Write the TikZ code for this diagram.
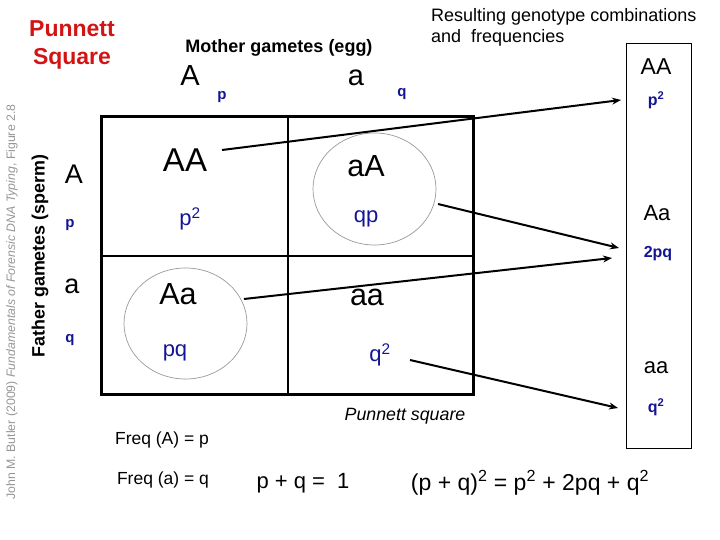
\documentclass[tikz,border=0pt]{standalone}
\usepackage{fontspec}
\setmainfont{Liberation Sans}
\usetikzlibrary{arrows.meta}
\definecolor{gblue}{RGB}{20,20,150}
\definecolor{pred}{RGB}{210,20,20}
\definecolor{credit}{RGB}{150,150,150}
\newcommand\fsz[1]{\fontsize{#1}{#1}\selectfont}
\begin{document}
\begin{tikzpicture}[x=1pt,y=-1pt,
  lbl/.style={inner sep=0pt, anchor=center},
  big/.style={lbl, font=\fsz{30.5}},
  freq/.style={lbl, font=\fsz{22}, text=gblue},
  sml/.style={lbl, font=\fsz{15}\bfseries, text=gblue},
  outer/.style={line width=3pt},
  inner/.style={line width=2pt},
  oval/.style={draw=gray!80, line width=0.7pt},
  arr/.style={line width=2pt, -{Stealth[length=9pt,width=7pt]}}]
\useasboundingbox (0,0) rectangle (720,540);
% titles
\node[lbl, align=center, font=\fsz{23}\bfseries, text=pred] (title) at (72,45) {Punnett\\[5pt]Square};
\node[lbl, rotate=90, font=\fsz{12.3}, text=credit] (credit) at (12,302) {John M. Butler (2009) \textit{Fundamentals of Forensic DNA Typing}, Figure 2.8};
\node[lbl, rotate=90, font=\fsz{17.9}\bfseries] (father) at (40,256) {Father gametes (sperm)};
\node[lbl, font=\fsz{18}\bfseries] (mother) at (279,48) {Mother gametes (egg)};
\node[inner sep=0pt, anchor=base west, font=\fsz{18}] (result1) at (431,22) {Resulting genotype combinations};
\node[inner sep=0pt, anchor=base west, font=\fsz{18}] (result2) at (431,43) {and\ \ frequencies};
% gametes
\node[lbl, font=\fsz{29}] (mA) at (190,76) {A};
\node[sml] (mp) at (222,97) {p};
\node[lbl, font=\fsz{29}] (ma) at (356,78) {a};
\node[sml] (mq) at (402,94) {q};
\node[lbl, font=\fsz{27}] (fA) at (74,174) {A};
\node[sml] (fp) at (70,225) {p};
\node[lbl, font=\fsz{27}] (fa) at (72,286) {a};
\node[sml] (fq) at (70,340) {q};
% square
\draw[inner] (288,117) -- (288,394);
\draw[inner] (101,256) -- (473,256);
\draw[outer] (101,117) rectangle (473,394);
% ovals
\draw[oval] (374.5,189) ellipse [x radius=61.5, y radius=56];
\draw[oval] (185.5,323.5) ellipse [x radius=61.5, y radius=55.5];
% cells
\node[big, font=\fsz{33}] (cAA) at (185,160) {AA};
\node[freq] (cpp) at (190,219) {p\textsuperscript{2}};
\node[big] (caA) at (366,166) {aA};
\node[freq] (cqp) at (366,219) {qp};
\node[big] (cAa) at (178,294) {Aa};
\node[freq] (cpq) at (175,353) {pq};
\node[big] (caa) at (367,297) {aa};
\node[freq] (cqq) at (380,355) {q\textsuperscript{2}};
\node[lbl, font=\fsz{17.8}\itshape] (ps) at (405,416) {Punnett square};
% result box
\draw[line width=0.9pt] (626,43) rectangle (691,448);
\node[lbl, font=\fsz{23}] (rAA) at (656,67) {AA};
\node[sml, font=\fsz{16}\bfseries] (rpp) at (656,100) {p\textsuperscript{2}};
\node[lbl, font=\fsz{22}] (rAa) at (657,213) {Aa};
\node[sml, font=\fsz{16}\bfseries] (r2pq) at (658,254) {2pq};
\node[lbl, font=\fsz{22}] (raa) at (656,368) {aa};
\node[sml, font=\fsz{16}\bfseries] (rqq) at (656,407) {q\textsuperscript{2}};
% arrows
\coordinate (s1) at (222,150); \coordinate (e1) at (621,100);
\coordinate (s2) at (438,204); \coordinate (e2) at (619,248);
\coordinate (s3) at (244,299); \coordinate (e3) at (612,258);
\coordinate (s4) at (410,360); \coordinate (e4) at (618,408);
\draw[arr] (s1) -- (e1);
\draw[arr] (s2) -- (e2);
\draw[arr] (s3) -- (e3);
\draw[arr] (s4) -- (e4);
% formulas
\node[lbl, font=\fsz{17.5}] (fA1) at (162,440) {Freq (A) = p};
\node[lbl, font=\fsz{17.5}] (fa1) at (163,480) {Freq (a) = q};
\node[lbl, font=\fsz{22}] (sum) at (303,483) {p + q =\ \ 1};
\node[lbl, font=\fsz{23}] (hw) at (530,483) {(p + q)\textsuperscript{2} = p\textsuperscript{2} + 2pq + q\textsuperscript{2}};
\end{tikzpicture}
\end{document}
